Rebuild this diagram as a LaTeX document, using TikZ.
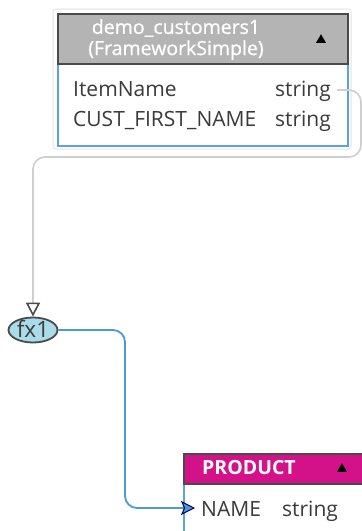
\documentclass[tikz,border=0pt]{standalone}
\usepackage{fontspec}
\setmainfont{Open Sans}
\newfontfamily\medfont[FakeBold=0.8]{Open Sans}
\usetikzlibrary{arrows.meta,shapes.geometric}
\definecolor{hdrgray}{HTML}{B4B4B4}
\definecolor{hdrdark}{HTML}{4A4A4A}
\definecolor{tblblue}{HTML}{5BA3DA}
\definecolor{linkgray}{HTML}{CFCFCF}
\definecolor{fxfill}{HTML}{A9DCEA}
\definecolor{magenta1}{HTML}{D3128A}
\definecolor{txt}{HTML}{3A3A3A}
\definecolor{linkblue}{HTML}{4A9AD4}
\tikzset{
  hdrtext/.style={text=white,font=\medfont\fontsize{19.5}{20}\selectfont,inner sep=0pt},
  rowtext/.style={text=txt,font=\fontsize{21}{22}\selectfont,inner sep=0pt},
  tri/.style={fill=black,draw=none,isosceles triangle,isosceles triangle apex angle=60,shape border rotate=90,inner sep=0pt,minimum width=10pt,minimum height=7pt},
}
\begin{document}
\begin{tikzpicture}[x=1pt,y=-1pt]
\useasboundingbox (0,0) rectangle (362,531);
\clip (0,0) rectangle (362,531);
\fill[white] (0,0) rectangle (362,531);
% top table
\draw[black!7,line width=1.5pt,rounded corners=3pt] (53,9) rectangle (351,149);
\node[draw=tblblue,fill=white,line width=1.8pt,minimum width=290pt,minimum height=83pt,inner sep=0pt,anchor=north west] (body1) at (57,62) {};
\node[draw=hdrdark,fill=hdrgray,line width=1.8pt,minimum width=290pt,minimum height=50pt,inner sep=0pt,anchor=north west] (hdr1) at (57,13) {};
\node[hdrtext,anchor=center] (t1a) at (176,28) {demo\_customers1};
\node[hdrtext,anchor=center] (t1b) at (176,50) {(FrameworkSimple)};
\node[tri] (tri1) at (321,40) {};
\node[rowtext,anchor=base west] (r1a) at (73,96) {ItemName};
\node[rowtext,anchor=base east] (r1b) at (331,96) {string};
\node[rowtext,anchor=base west] (r2a) at (73,126) {CUST\_FIRST\_NAME};
\node[rowtext,anchor=base east] (r2b) at (331,126) {string};
\coordinate (c1) at (337,90);
% fx1
\node[ellipse,draw=hdrdark,fill=fxfill,line width=1.8pt,minimum width=49pt,minimum height=25pt,inner sep=0pt] (fx1) at (33,330) {};
\node[text=txt,font=\fontsize{22.5}{23}\selectfont,inner sep=0pt] (fxt) at (33,329) {fx1};
% gray link
\draw[linkgray,line width=1.6pt,rounded corners=12pt,-{Triangle[open,color=hdrdark,length=14pt,width=14pt,line width=1.6pt]}] (c1) -- (361,90) -- (361,157) -- (33,157) -- (fx1.north);
% product table
\node[draw=tblblue,fill=white,line width=1.8pt,minimum width=190pt,minimum height=80pt,inner sep=0pt,anchor=north west] (body2) at (183,482) {};
\node[draw=hdrdark,fill=magenta1,line width=1.8pt,minimum width=190pt,minimum height=30pt,inner sep=0pt,anchor=north west] (hdr2) at (183,453) {};
\node[hdrtext,anchor=base west,font=\fontsize{19.5}{20}\selectfont\bfseries] (t2) at (202,474) {PRODUCT};
\node[tri] (tri2) at (342,469) {};
\node[rowtext,anchor=base west] (r3a) at (201,516) {NAME};
\node[rowtext,anchor=base west] (r3b) at (282,516) {string};
\coordinate (n1) at (195,508);
% blue link
\draw[linkblue,line width=1.8pt,rounded corners=12pt,-{Stealth[length=14pt,width=14pt,inset=3pt,fill=linkblue,color=black!60!blue,line width=1pt]}] (fx1.east) -- (125,330) -- (125,508) -- (n1);
\end{tikzpicture}
\end{document}
